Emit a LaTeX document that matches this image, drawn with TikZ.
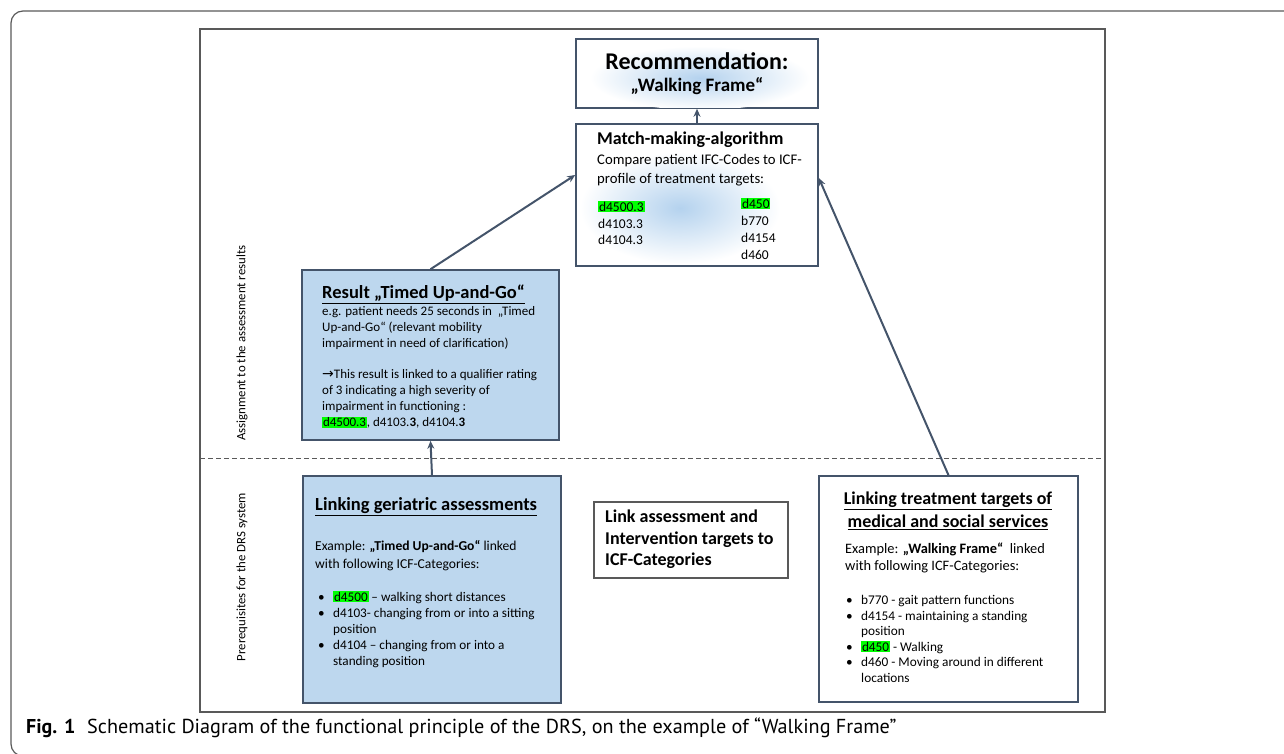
\documentclass[tikz,border=0pt]{standalone}
\usepackage{fontspec}
\setmainfont{Carlito}
\newfontfamily\capfont{PT Sans}
\newfontfamily\symfont{DejaVu Sans}
\usetikzlibrary{positioning,arrows.meta,calc}
\definecolor{slate}{HTML}{44546A}
\definecolor{paleblue}{HTML}{BDD7EE}
\definecolor{glow}{HTML}{B4D2EE}
\definecolor{framegray}{HTML}{595959}
\definecolor{hlgreen}{HTML}{00FF00}
\newcommand{\hlg}[1]{{\setlength{\fboxsep}{0.8pt}\colorbox{hlgreen}{#1}}}
\newcommand{\bul}{\makebox[15pt][l]{•}}
\newcommand{\cnt}{\hspace*{15pt}}
\tikzset{
  box/.style={draw=slate, line width=1.6pt, inner sep=0pt},
  arr/.style={draw=slate, line width=2pt, -{Stealth[length=8pt,width=7pt]}},
  txt/.style={anchor=north west, inner sep=0pt, align=left},
  body/.style={font=\fontsize{13}{16}\selectfont},
  head/.style={font=\fontsize{18.5}{22}\selectfont\bfseries},
}
\begin{document}
\begin{tikzpicture}[x=1pt,y=-1pt]
\useasboundingbox (0,0) rectangle (1284,753);
% frames
\draw[framegray, line width=1.2pt, rounded corners=12pt] (1300,11) -- (11,11) -- (11,756) -- (1300,756);
\node[draw=framegray, line width=1.3pt, minimum width=905pt, minimum height=683pt, inner sep=0pt] (panel) at (652.5,370.5) {};
\draw[framegray, line width=0.8pt, dash pattern=on 5pt off 3pt] (200,458) -- (1105,458);
\node[rotate=90, font=\fontsize{12.8}{14}\selectfont] (lblassign) at (242,343) {Assignment to the assessment results};
\node[rotate=90, font=\fontsize{12.8}{14}\selectfont] (lblprereq) at (242,577) {Prerequisites for the DRS system};

% boxes
\node[box, fill=white, minimum width=242pt, minimum height=69pt] (rec) at (697,73.5) {};
\node[box, fill=white, minimum width=242pt, minimum height=142pt] (match) at (697,195) {};
\node[box, fill=paleblue, minimum width=257pt, minimum height=170pt] (res) at (430.5,355) {};
\node[box, fill=paleblue, minimum width=258pt, minimum height=227pt] (geri) at (432,589.5) {};
\node[box, line width=1.2pt, draw=framegray, minimum width=194pt, minimum height=76pt] (link) at (691,540) {};
\node[box, minimum width=259pt, minimum height=226pt] (serv) at (948.5,589) {};

% glow
\begin{scope}
\clip (577,40) rectangle (817,107);
\shade[inner color=glow, outer color=white] (700,78) ellipse (110pt and 32pt);
\end{scope}
\begin{scope}
\clip (577,125) rectangle (817,265);
\shade[inner color=glow, outer color=white] (680,208) ellipse (100pt and 56pt);
\end{scope}

% texts
\node[font=\fontsize{24}{28}\selectfont\bfseries] (rectitle) at (697,61) {Recommendation:};
\node[font=\fontsize{19}{22}\selectfont\bfseries] (recname) at (697,86) {„Walking Frame“};

\node[txt, font=\fontsize{18}{22}\selectfont\bfseries] (matchtitle) at (597,132) {Match-making-algorithm};
\node[txt, font=\fontsize{14.7}{19}\selectfont] (matchtext) at (597,154) {Compare patient IFC-Codes to ICF-\\profile of treatment targets:};
\node[txt, font=\fontsize{13.5}{16.7}\selectfont] (codesleft) at (598,201) {\hlg{d4500.3}\\d4103.3\\d4104.3};
\node[txt, font=\fontsize{13.5}{17.2}\selectfont] (codesright) at (741,198) {\hlg{d450}\\b770\\d4154\\d460};

\node[txt, head] (restitle) at (322,285) {\underline{Result „Timed Up-and-Go“}};
\node[txt, body] (restext) at (322,306) {e.g. patient needs 25 seconds in \ „Timed\\Up-and-Go“ (relevant mobility\\impairment in need of clarification)\\[15.5pt]{\symfont\fontsize{14}{16}\selectfont →}This result is linked to a qualifier rating\\of 3 indicating a high severity of\\impairment in functioning :\\\hlg{d4500.3}, d4103.\textbf{3}, d4104.\textbf{3}};

\node[txt, head] (gerititle) at (315,497) {\underline{Linking geriatric assessments}};
\node[txt, font=\fontsize{13.6}{18.5}\selectfont] (geritext) at (315,540) {Example: \textbf{„Timed Up-and-Go“} linked\\with following ICF-Categories:};
\node[txt, font=\fontsize{13.2}{16}\selectfont] (gerilist) at (318,591) {\bul\hlg{d4500} – walking short distances\\\bul d4103- changing from or into a sitting\\\cnt position\\\bul d4104 – changing from or into a\\\cnt standing position};

\node[txt, font=\fontsize{18}{21.5}\selectfont\bfseries] (linktext) at (605,510) {Link assessment and\\Intervention targets to\\ICF-Categories};

\node[align=center, inner sep=0pt, font=\fontsize{18}{23}\selectfont\bfseries] (servtitle) at (948,511) {\underline{Linking treatment targets of}\\\underline{medical and social services}};
\node[txt, font=\fontsize{14.4}{16.5}\selectfont] (servtext) at (845,543) {Example: \textbf{„Walking Frame“} \ linked\\with following ICF-Categories:};
\node[txt, font=\fontsize{13.3}{15.6}\selectfont] (servlist) at (846,595) {\bul b770 - gait pattern functions\\\bul d4154 - maintaining a standing\\\cnt position\\\bul\hlg{d450} - Walking\\\bul d460 - Moving around in different\\\cnt locations};

% connectors
\draw[arr] (match.north) -- (rec.south);
\draw[arr] (res.north) -- ([yshift=20pt]match.west);
\draw[arr] (serv.north) -- ([yshift=17pt]match.east);
\draw[arr] (geri.north) -- (res.south);

% caption
\node[anchor=base west, inner sep=0pt, font=\capfont\fontsize{20}{22}\selectfont\bfseries] (figlabel) at (26,733) {Fig. 1};
\node[anchor=base west, inner sep=0pt, font=\capfont\fontsize{20.2}{22}\selectfont] (caption) at (87,733) {Schematic Diagram of the functional principle of the DRS, on the example of “Walking Frame”};
\end{tikzpicture}
\end{document}
